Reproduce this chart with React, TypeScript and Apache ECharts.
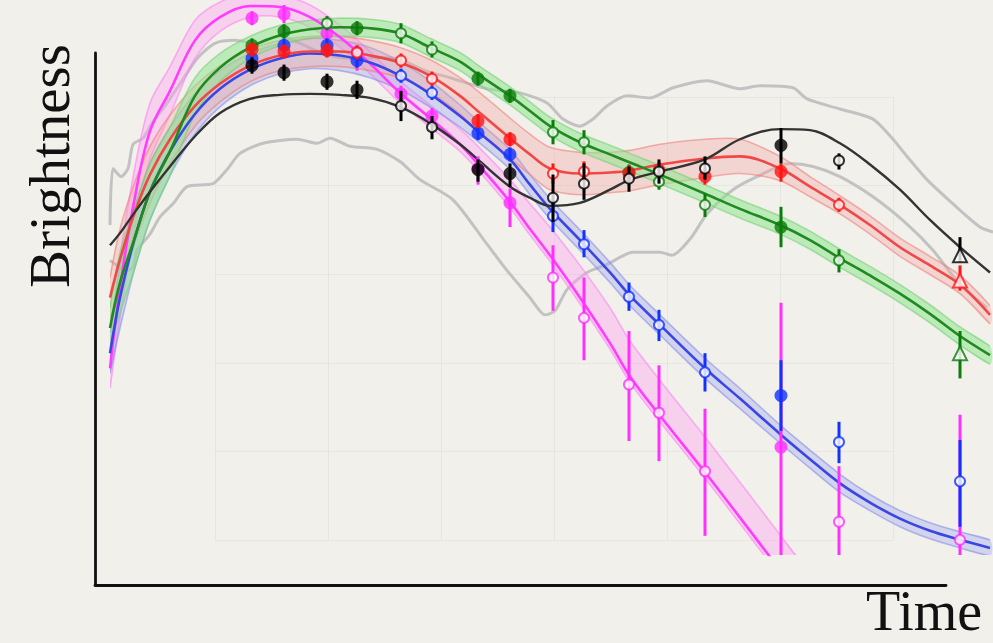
import { useEffect, useRef } from "react";
import * as echarts from "echarts";

// ---------------------------------------------------------------------------
// Fitted light curves, sampled on a common time grid (days)
// ---------------------------------------------------------------------------
const curveTime = [0, 1, 2.5, 4, 6, 8.5, 11, 14, 17, 20, 23, 26, 29, 32, 35, 37, 40, 42, 44, 47, 50, 52, 55, 59.5, 63, 67, 70, 73, 76, 79, 82, 85, 88];

const greenCurve = [22.5, 27.0, 31.5, 36.0, 40.0, 45.5, 48.3, 50.3, 51.5, 52.1, 52.3, 52.2, 51.7, 50.3, 48.9, 47.5, 45.5, 44.0, 42.5, 40.9, 39.7, 38.9, 37.7, 35.8, 34.3, 32.7, 31.2, 29.4, 27.7, 25.9, 23.9, 21.7, 19.8];
const greenBand = [2, 3, 3, 2.8, 2.4, 1.8, 1.4, 1.1, 1, 0.9, 0.9, 0.9, 0.9, 0.9, 0.9, 0.9, 0.9, 0.9, 0.9, 0.9, 0.9, 0.9, 0.9, 0.9, 0.9, 0.9, 0.9, 0.9, 0.9, 0.9, 0.9, 0.9, 0.9];

const redCurve = [25.5, 29.3, 34.0, 37.7, 41.2, 44.5, 46.7, 48.5, 49.5, 49.9, 49.9, 49.5, 48.8, 47.5, 45.5, 43.8, 41.3, 39.7, 38.3, 37.8, 37.9, 38.1, 38.7, 39.3, 39.5, 38.3, 36.5, 34.7, 32.7, 30.5, 28.7, 26.8, 23.8];
const redBand = [2, 3, 3, 2.8, 2.4, 2, 1.8, 1.6, 1.5, 1.5, 1.5, 1.5, 1.5, 1.6, 1.8, 2, 2, 2, 2.1, 2.1, 2, 2, 2, 1.9, 1.7, 1.2, 1, 0.9, 0.9, 0.9, 0.9, 0.9, 0.9];

const blueCurve = [20.0, 25.5, 31.5, 36.0, 40.0, 43.7, 46.2, 48.1, 49.2, 49.7, 49.5, 48.8, 47.5, 45.7, 43.5, 41.8, 39.2, 36.7, 34.3, 31.2, 28.0, 25.7, 22.8, 18.5, 15.5, 12.0, 9.5, 7.1, 5.2, 3.6, 2.4, 1.5, 0.7];
const blueBand = [2, 3, 3, 2.8, 2.4, 2, 1.8, 1.6, 1.5, 1.5, 1.5, 1.5, 1.4, 1.3, 1.1, 1, 1, 1, 1, 1, 1, 1, 1, 1, 1, 0.9, 0.9, 0.9, 0.8, 0.8, 0.8, 0.8, 0.8];

const blackCurve = [30.7, 31.9, 34.0, 36.0, 38.5, 41.5, 43.8, 45.2, 45.6, 45.7, 45.6, 45.3, 44.4, 42.8, 40.7, 39.0, 36.5, 35.4, 34.6, 34.9, 36.2, 37.2, 38.0, 39.2, 41.2, 42.2, 42.1, 40.8, 38.7, 36.2, 33.2, 30.5, 28.0];

// The magenta fit fades out of the plot, so it is sampled only up to day 70
const magentaCurve = [18.5, 26.5, 35.5, 42.0, 46.0, 51.0, 53.3, 54.4, 54.3, 53.3, 51.3, 48.7, 45.8, 43.3, 40.7, 38.5, 35.0, 32.3, 29.7, 25.5, 21.0, 17.7, 13.8, 8.2, 3.7, -1.5, -5.5];
const magentaBandUp = [2, 3, 3, 2.8, 2.4, 2, 1.5, 1.3, 1.2, 1.2, 1.2, 1.2, 1.2, 1.3, 1.5, 1.8, 2.2, 2.5, 2.8, 3.2, 3.5, 3.5, 3.5, 3.5, 3.5, 3.5, 3.5];
const magentaBandDown = [2, 3, 3, 2.8, 2.4, 1.8, 1.4, 1.1, 1, 1, 1, 1, 1, 0.9, 0.7, 0.6, 0.6, 0.6, 0.6, 0.6, 0.6, 0.6, 0.6, 0.6, 0.6, 0.6, 0.6];

// Comparison light curves (grey)
const greyUpperTime = [0, 0.3, 1.1, 1.8, 2.3, 3.3, 4.2, 5.5, 7.0, 8.8, 10.5, 12.5, 14.5, 17.0, 19.0, 21.0, 23.0, 25.0, 27.0, 29.0, 31.5, 34.0, 37.7, 41.0, 43.7, 45.3, 47.0, 48.3, 49.7, 51.7, 54.0, 56.3, 59.7, 63.0, 65.0, 68.3, 69.7, 73.0, 76.3, 78.3, 79.7, 81.7, 84.3, 87.0, 88.3];
const greyUpper = [32.7, 38.3, 37.5, 38.3, 40.7, 41.3, 42.8, 44.5, 46.7, 49.3, 50.7, 51.0, 50.7, 51.4, 50.7, 49.8, 49.3, 49.2, 49.3, 49.1, 48.0, 47.3, 46.2, 45.8, 44.8, 43.2, 42.5, 43.2, 44.5, 45.5, 45.3, 46.3, 47.0, 46.2, 46.5, 46.3, 45.2, 44.2, 43.2, 41.2, 39.5, 37.2, 34.8, 32.5, 32.0];
const greyLowerTime = [0, 1.7, 2.3, 2.7, 4.0, 5.0, 6.3, 7.7, 10.3, 11.7, 13.0, 15.3, 18.7, 20.7, 22.0, 24.0, 26.7, 29.0, 31.0, 34.3, 37.7, 39.7, 42.0, 43.5, 44.5, 45.7, 47.7, 49.7, 52.3, 55.0, 56.2, 58.0, 59.7, 62.3, 64.7, 68.0, 70.3, 73.0, 76.3, 79.7, 82.3, 85.0, 87.7];
const greyLower = [29.2, 28.2, 28.5, 30.2, 31.8, 33.5, 34.8, 36.5, 36.8, 38.2, 39.8, 40.8, 41.2, 40.8, 41.3, 40.5, 40.2, 39.0, 37.2, 35.2, 30.8, 28.2, 25.5, 23.8, 24.2, 26.3, 28.0, 28.8, 30.0, 30.0, 29.7, 31.3, 33.8, 36.2, 37.5, 38.8, 38.5, 37.5, 35.5, 32.8, 30.2, 26.8, 24.5];

// ---------------------------------------------------------------------------
// Photometry: observation epochs (days), brightness, error bars, marker kind
// kind: f = filled circle, o = open circle, t = open triangle
// ---------------------------------------------------------------------------
const epochs = [14.2, 17.4, 21.7, 24.7, 29.1, 32.2, 36.8, 40.0, 44.3, 47.4, 51.9, 54.9, 59.5, 67.1, 72.9, 85.0];

const greenMag = [50.5, 51.9, 52.7, 52.2, 51.7, 50.1, 47.2, 45.5, 41.9, 40.9, 37.9, 37.0, 34.7, 32.5, 29.2, 20.0];
const greenErrUp = [0.7, 0.7, 0.7, 0.7, 1.0, 0.8, 0.7, 0.7, 1.2, 1.2, 0.8, 1.2, 1.1, 2.0, 1.1, 2.2];
const greenErrDown = [0.7, 0.7, 0.7, 0.7, 1.0, 0.8, 0.7, 0.7, 1.2, 1.2, 0.8, 0.8, 1.2, 2.0, 1.2, 2.5];
const greenKind = ["f", "f", "o", "f", "o", "o", "f", "f", "o", "o", "f", "o", "o", "f", "o", "t"];

const redMag = [50.1, 49.9, 50.0, 49.8, 49.0, 47.2, 43.0, 41.2, 37.8, 38.0, 37.8, 38.2, 37.5, 38.0, 34.7, 27.2];
const redErrUp = [0.7, 0.7, 0.7, 0.7, 0.7, 0.7, 0.7, 0.7, 1.0, 1.0, 0.8, 0.8, 0.8, 0.8, 0.7, 1.5];
const redErrDown = [0.7, 0.7, 0.7, 0.7, 0.7, 0.7, 0.7, 0.7, 1.0, 1.0, 0.8, 0.8, 0.8, 1.0, 0.7, 1.0];
const redKind = ["f", "f", "f", "o", "o", "o", "f", "f", "o", "o", "f", "o", "f", "f", "o", "t"];

const blueMag = [49.2, 50.5, 50.5, 49.0, 47.5, 45.8, 41.8, 39.7, 33.6, 30.8, 25.6, 22.8, 18.1, 15.8, 11.2, 7.3];
const blueErrUp = [0.7, 0.7, 0.7, 0.7, 0.7, 0.7, 0.7, 0.7, 1.6, 1.4, 1.4, 1.5, 1.9, 3.5, 2.0, 4.1];
const blueErrDown = [0.7, 0.7, 0.7, 0.7, 0.7, 0.7, 0.7, 0.7, 1.6, 1.3, 1.4, 1.6, 1.9, 3.5, 2.1, 4.5];
const blueKind = ["f", "f", "f", "f", "o", "o", "f", "f", "o", "o", "o", "o", "o", "f", "o", "o"];

const blackMag = [48.5, 47.8, 46.9, 46.1, 44.5, 42.4, 38.2, 37.8, 35.4, 36.8, 37.3, 38.0, 38.3, 40.6, 39.1, 29.7];
const blackErrUp = [0.8, 0.8, 0.8, 0.9, 1.5, 1.1, 1.0, 1.0, 2.3, 2.0, 1.2, 1.2, 1.2, 1.7, 0.7, 1.8];
const blackErrDown = [0.8, 0.8, 0.8, 0.9, 1.5, 1.2, 1.2, 1.3, 2.4, 1.6, 1.3, 1.2, 1.1, 1.8, 0.9, 0.7];
const blackKind = ["f", "f", "f", "f", "o", "o", "f", "f", "o", "o", "o", "o", "o", "f", "o", "t"];

const magentaMag = [53.2, 53.6, 51.7, 49.8, 45.7, 43.5, 38.3, 34.9, 27.5, 23.5, 16.9, 14.1, 8.3, 10.7, 3.3, 1.5];
const magentaErrUp = [0.7, 0.9, 0.7, 0.7, 0.8, 0.8, 1.2, 1.4, 3.2, 4.0, 5.3, 4.7, 6.2, 14.3, 5.5, 12.4];
const magentaErrDown = [0.7, 0.9, 0.7, 1.8, 0.8, 0.8, 1.6, 2.4, 3.3, 4.2, 5.6, 4.8, 6.4, 12.0, 6.0, 5.0];
const magentaKind = ["f", "f", "f", "f", "f", "f", "f", "f", "o", "o", "o", "o", "o", "f", "o", "o"];

// ---------------------------------------------------------------------------
// Series builders
// ---------------------------------------------------------------------------
const MAIN = 0;

function bandSeries(time: number[], curve: number[], up: number[], down: number[], fill: string, fillOpacity: number, edge: string, z: number) {
  const data = curve.map((c, i) => [time[i], c - down[i], c + up[i]]);
  return {
    type: "custom",
    xAxisIndex: MAIN,
    yAxisIndex: MAIN,
    z,
    silent: true,
    clip: true,
    data,
    encode: { x: 0, y: [1, 2] },
    renderItem: (params: any, api: any) => {
      if (params.dataIndex !== 0) return null;
      const upper = data.map((d) => api.coord([d[0], d[2]]));
      const lower = data.map((d) => api.coord([d[0], d[1]]));
      return {
        type: "group",
        children: [
          {
            type: "polygon",
            shape: { points: upper.concat(lower.slice().reverse()), smooth: 0.3 },
            style: { fill, opacity: fillOpacity },
          },
          {
            type: "polyline",
            shape: { points: upper, smooth: 0.3 },
            style: { stroke: edge, lineWidth: 1.6, fill: null, opacity: 0.55 },
          },
          {
            type: "polyline",
            shape: { points: lower, smooth: 0.3 },
            style: { stroke: edge, lineWidth: 1.6, fill: null, opacity: 0.55 },
          },
        ],
      };
    },
  };
}

function curveSeries(time: number[], curve: number[], color: string, z: number, width = 2.6) {
  return {
    type: "line",
    xAxisIndex: MAIN,
    yAxisIndex: MAIN,
    z,
    silent: true,
    smooth: 0.35,
    symbol: "none",
    data: curve.map((c, i) => [time[i], c]),
    lineStyle: { color, width },
  };
}

function errorSeries(mag: number[], up: number[], down: number[], color: string, z: number) {
  return {
    type: "custom",
    xAxisIndex: MAIN,
    yAxisIndex: MAIN,
    z,
    silent: true,
    clip: true,
    data: mag.map((m, i) => [epochs[i], m - down[i], m + up[i]]),
    encode: { x: 0, y: [1, 2] },
    renderItem: (_params: any, api: any) => {
      const a = api.coord([api.value(0), api.value(1)]);
      const b = api.coord([api.value(0), api.value(2)]);
      return {
        type: "line",
        shape: { x1: a[0], y1: a[1], x2: b[0], y2: b[1] },
        style: { stroke: color, lineWidth: 3 },
      };
    },
  };
}

function markerSeries(mag: number[], kind: string[], color: string, z: number) {
  return {
    type: "scatter",
    xAxisIndex: MAIN,
    yAxisIndex: MAIN,
    z,
    silent: true,
    data: mag.map((m, i) => {
      const k = kind[i];
      if (k === "f") {
        return { value: [epochs[i], m], symbol: "circle", symbolSize: 13, itemStyle: { color, borderWidth: 0 } };
      }
      if (k === "t") {
        return { value: [epochs[i], m], symbol: "emptyTriangle", symbolSize: 14, itemStyle: { color, borderColor: color, borderWidth: 3 } };
      }
      return { value: [epochs[i], m], symbol: "emptyCircle", symbolSize: 10, itemStyle: { color, borderColor: color, borderWidth: 3.3 } };
    }),
  };
}

function greySeries(time: number[], values: number[]) {
  return {
    type: "line",
    xAxisIndex: MAIN,
    yAxisIndex: MAIN,
    z: 1,
    silent: true,
    smooth: 0.25,
    symbol: "none",
    data: values.map((v, i) => [time[i], v]),
    lineStyle: { color: "#c2c2c2", width: 3 },
  };
}

const GREEN = { line: "#1f8a1f", fill: "#8fe88f", edge: "#6fcf6f", marker: "#0b7c0b" };
const RED = { line: "#f04848", fill: "#f3a09c", edge: "#ee7a76", marker: "#ff1414" };
const BLUE = { line: "#3a46e4", fill: "#98a0ee", edge: "#8088e6", marker: "#1232ff" };
const MAGENTA = { line: "#ff3cff", fill: "#ff9cf4", edge: "#ff7cf2", marker: "#ff30ff" };
const BLACK = { line: "#333333", marker: "#000000" };

const serifFont = '"Liberation Serif", "Times New Roman", serif';

export default function App() {
  const ref = useRef<HTMLDivElement>(null);

  useEffect(() => {
    if (!ref.current) return;
    const chart = echarts.init(ref.current, null, { renderer: "svg" });

    const hiddenAxis = (gridIndex: number, max: number) => ({
      type: "value",
      gridIndex,
      min: 0,
      max,
      show: false,
    });

    const option: any = {
      animation: false,
      backgroundColor: "#f2f0eb",
      grid: [
        { left: 110, top: 0, width: 883, height: 555 },
        { left: 95, top: 53, width: 851, height: 532 },
        { left: 215, top: 97, width: 678, height: 443 },
      ],
      xAxis: [
        { ...hiddenAxis(0, 88.3) },
        {
          type: "value",
          gridIndex: 1,
          min: 0,
          max: 1,
          axisLine: { show: true, lineStyle: { color: "#111111", width: 2.8 } },
          axisTick: { show: false },
          axisLabel: { show: false },
          splitLine: { show: false },
        },
        {
          type: "value",
          gridIndex: 2,
          min: 0,
          max: 6,
          interval: 1,
          z: 0,
          axisLine: { show: false },
          axisTick: { show: false },
          axisLabel: { show: false },
          splitLine: { show: true, lineStyle: { color: "rgba(0,0,0,0.04)", width: 1 } },
        },
      ],
      yAxis: [
        { ...hiddenAxis(0, 55) },
        {
          type: "value",
          gridIndex: 1,
          min: 0,
          max: 1,
          axisLine: { show: true, lineStyle: { color: "#111111", width: 2.8 } },
          axisTick: { show: false },
          axisLabel: { show: false },
          splitLine: { show: false },
        },
        {
          type: "value",
          gridIndex: 2,
          min: 0,
          max: 5,
          interval: 1,
          z: 0,
          axisLine: { show: false },
          axisTick: { show: false },
          axisLabel: { show: false },
          splitLine: { show: true, lineStyle: { color: "rgba(0,0,0,0.04)", width: 1 } },
        },
      ],
      series: [
        greySeries(greyUpperTime, greyUpper),
        greySeries(greyLowerTime, greyLower),

        bandSeries(curveTime, magentaCurve, magentaBandUp, magentaBandDown, MAGENTA.fill, 0.38, MAGENTA.edge, 2),
        bandSeries(curveTime, blueCurve, blueBand, blueBand, BLUE.fill, 0.36, BLUE.edge, 2),
        bandSeries(curveTime, redCurve, redBand, redBand, RED.fill, 0.34, RED.edge, 2),
        bandSeries(curveTime, greenCurve, greenBand, greenBand, GREEN.fill, 0.55, GREEN.edge, 2),

        curveSeries(curveTime, magentaCurve, MAGENTA.line, 3),
        curveSeries(curveTime, blueCurve, BLUE.line, 3),
        curveSeries(curveTime, redCurve, RED.line, 3),
        curveSeries(curveTime, greenCurve, GREEN.line, 3),
        curveSeries(curveTime, blackCurve, BLACK.line, 3, 2.4),

        errorSeries(magentaMag, magentaErrUp, magentaErrDown, MAGENTA.marker, 10),
        markerSeries(magentaMag, magentaKind, MAGENTA.marker, 11),
        errorSeries(blueMag, blueErrUp, blueErrDown, BLUE.marker, 12),
        markerSeries(blueMag, blueKind, BLUE.marker, 13),
        errorSeries(greenMag, greenErrUp, greenErrDown, GREEN.marker, 14),
        markerSeries(greenMag, greenKind, GREEN.marker, 15),
        errorSeries(redMag, redErrUp, redErrDown, RED.marker, 16),
        markerSeries(redMag, redKind, RED.marker, 17),
        errorSeries(blackMag, blackErrUp, blackErrDown, BLACK.marker, 18),
        markerSeries(blackMag, blackKind, BLACK.marker, 19),
      ],
      graphic: [
        {
          type: "text",
          x: 49,
          y: 166,
          rotation: Math.PI / 2,
          z: 100,
          style: {
            text: "Brightness",
            fontSize: 57,
            lineHeight: 40,
            fontFamily: serifFont,
            fill: "#111111",
            textAlign: "center",
            textVerticalAlign: "middle",
          },
        },
        {
          type: "text",
          x: 866,
          y: 611,
          z: 100,
          style: {
            text: "Time",
            fontSize: 56,
            lineHeight: 40,
            fontFamily: serifFont,
            fill: "#111111",
            textAlign: "left",
            textVerticalAlign: "middle",
          },
        },
      ],
    };

    chart.setOption(option);
    return () => chart.dispose();
  }, []);

  return (
    <div
      ref={ref}
      style={{ position: "fixed", left: 0, top: 0, width: 993, height: 643, background: "#f2f0eb" }}
    />
  );
}
